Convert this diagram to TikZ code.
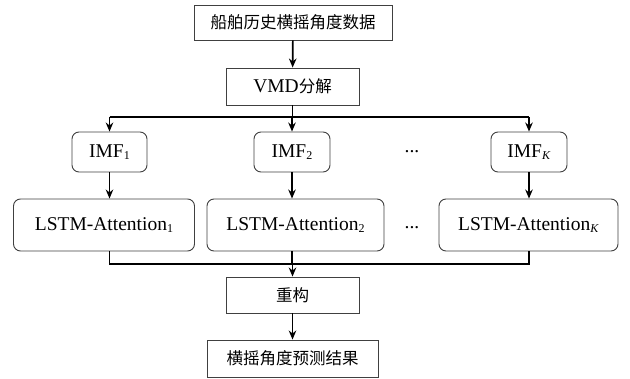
\documentclass[tikz,border=0pt]{standalone}
\usepackage{fontspec}
\setmainfont{Liberation Serif}
\newfontfamily\cjk{Noto Sans CJK SC}
\usetikzlibrary{arrows.meta}
\newcommand{\cjkt}[1]{{\cjk\fontsize{16.5}{18}\selectfont #1}}
\newcommand{\subs}[1]{\raisebox{-0.3ex}{\fontsize{12}{12}\selectfont #1}}
\begin{document}
\begin{tikzpicture}[x=1pt,y=-1pt,
  sqbox/.style={draw=black!75,line width=0.9pt,fill=white,inner sep=0pt},
  rbox/.style={draw=black!75,line width=0.9pt,fill=white,rounded corners=7pt,inner sep=0pt},
  conn/.style={line width=1.7pt,black},
  arr/.style={conn,-{Stealth[length=9pt,width=7.5pt]}},
  every node/.style={font=\fontsize{19.5}{21}\selectfont}]
\useasboundingbox (0,0) rectangle (630,379);
% boxes
\node[sqbox,minimum width=198pt,minimum height=35pt] (data) at (293,22.5) {\cjkt{船舶历史横摇角度数据}};
\node[sqbox,minimum width=133pt,minimum height=37pt] (vmd) at (292.5,86.5) {VMD\cjkt{分解}};
\node[rbox,minimum width=75pt,minimum height=40pt] (imf1) at (109.5,152) {IMF\subs{1}};
\node[rbox,minimum width=76pt,minimum height=40pt] (imf2) at (292,152) {IMF\subs{2}};
\node (dots1) at (412,152) {...};
\node[rbox,minimum width=76pt,minimum height=40pt] (imfk) at (529,152) {IMF\subs{\textit{K}}};
\node[rbox,minimum width=181pt,minimum height=52pt] (l1) at (104,225) {LSTM-Attention\subs{1}};
\node[rbox,minimum width=177pt,minimum height=52pt] (l2) at (295.5,225) {LSTM-Attention\subs{2}};
\node (dots2) at (412,228) {...};
\node[rbox,minimum width=179pt,minimum height=52pt] (lk) at (528.5,225) {LSTM-Attention\subs{\textit{K}}};
\node[sqbox,minimum width=133pt,minimum height=36pt] (rec) at (292.5,295) {\cjkt{重构}};
\node[sqbox,minimum width=171pt,minimum height=37pt] (res) at (292.5,358.5) {\cjkt{横摇角度预测结果}};
% coordinates
\coordinate (s) at (292.5,117);
\coordinate (m) at (292.5,264);
% connectors
\draw[arr] (data) -- (vmd);
\draw[conn] (vmd) -- (s);
\draw[conn] (imf1.north |- s) -- (imfk.north |- s);
\draw[arr] (imf1.north |- s) -- (imf1.north);
\draw[arr] (imf2.north |- s) -- (imf2.north);
\draw[arr] (imfk.north |- s) -- (imfk.north);
\draw[arr] (imf1) -- (imf1 |- l1.north);
\draw[arr] (imf2) -- (imf2 |- l2.north);
\draw[arr] (imfk) -- (imfk |- lk.north);
\draw[conn] (imf1 |- l1.south) |- (m);
\draw[conn] (imfk |- lk.south) |- (m);
\draw[conn] (imf2 |- l2.south) -- (imf2 |- m);
\draw[arr] (m) -- (rec);
\draw[arr] (rec) -- (res);
\end{tikzpicture}
\end{document}
